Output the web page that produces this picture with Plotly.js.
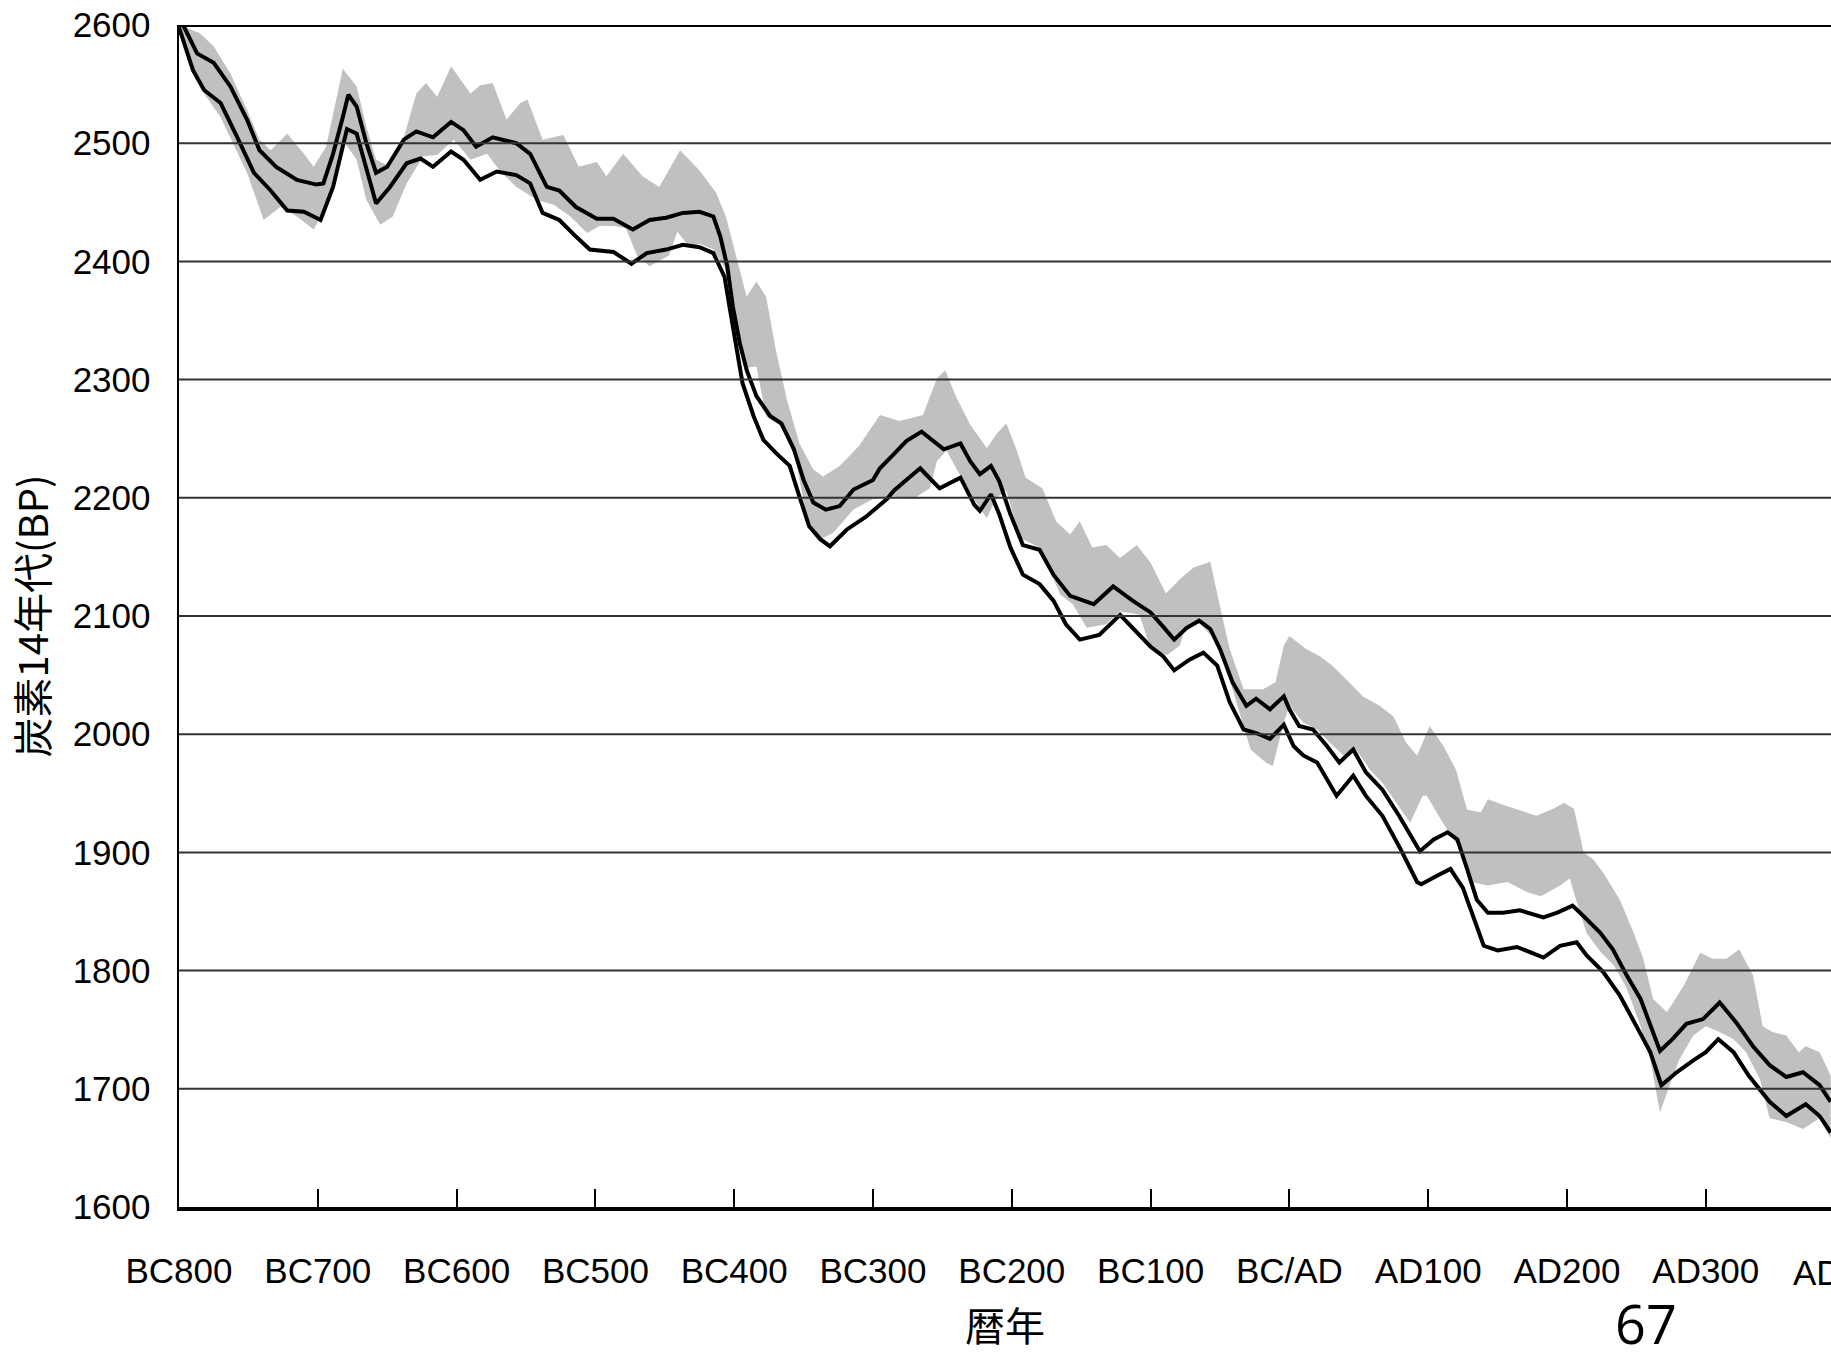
<!DOCTYPE html>
<html>
<head>
<meta charset="utf-8">
<script src="https://cdn.plot.ly/plotly-3.0.1.min.js"></script>
<style>
  html, body { margin: 0; padding: 0; background: #fff; overflow: hidden; }
  #chart { width: 1831px; height: 1353px; }
</style>
</head>
<body>
<div id="chart"></div>
<script>
// ---- Data (calendar year: BC negative, AD positive; value: 14C age BP) ----
const upperX = [-800,-797,-787,-775,-763,-751,-742,-730,-715,-701,-696,-689,-682,-678,-672,-665,-658,-650,-638,-629,-617,-604,-595,-586,-574,-557,-547,-535,-526,-514,-499,-487,-473,-461,-449,-437,-425,-415,-410,-405,-401,-396,-391,-384,-374,-366,-357,-350,-343,-334,-324,-314,-300,-295,-285,-276,-265,-257,-249,-237,-230,-223,-215,-209,-201,-192,-180,-170,-158,-141,-127,-113,-100,-91,-83,-74,-65,-57,-50,-41,-31,-24,-14,-4,0,7,17,27,36,46,55,67,79,94,104,114,121,128,135,143,154,166,183,193,204,212,224,233,243,253,260,267,276,286,298,310,322,334,346,358,370,382,390];
const upperY = [2600,2600,2576,2568,2548,2520,2494,2480,2469,2465,2466,2491,2522,2541,2531,2500,2475,2480,2503,2510,2505,2518,2511,2497,2505,2500,2491,2463,2460,2446,2436,2436,2427,2435,2437,2441,2442,2438,2421,2396,2362,2331,2308,2286,2269,2263,2241,2215,2196,2190,2193,2207,2215,2225,2237,2248,2256,2248,2241,2246,2231,2220,2227,2214,2186,2160,2156,2135,2117,2110,2125,2113,2103,2091,2080,2090,2096,2089,2072,2044,2024,2030,2021,2032,2021,2007,2004,1990,1976,1987,1968,1953,1931,1901,1911,1917,1911,1886,1860,1849,1849,1851,1845,1849,1855,1846,1832,1818,1796,1776,1753,1732,1742,1755,1759,1773,1756,1736,1720,1710,1714,1703,1689];

const lowerX = [-800,-790,-782,-770,-758,-746,-734,-722,-710,-698,-689,-679,-672,-665,-658,-648,-636,-626,-617,-604,-595,-583,-571,-557,-547,-538,-526,-514,-504,-487,-474,-463,-449,-437,-425,-415,-407,-403,-398,-394,-386,-379,-370,-360,-353,-346,-338,-331,-319,-305,-290,-285,-276,-266,-257,-252,-237,-227,-223,-215,-209,-201,-192,-180,-170,-161,-151,-137,-122,-108,-100,-91,-83,-72,-62,-52,-43,-33,-24,-14,-4,3,10,20,27,34,46,55,67,80,92,95,106,116,125,133,140,150,164,183,195,207,214,226,238,250,260,268,279,291,300,309,320,331,346,358,372,382,390];
const lowerY = [2598,2562,2545,2534,2505,2475,2460,2443,2442,2435,2463,2512,2508,2477,2449,2463,2483,2487,2480,2493,2486,2469,2476,2473,2466,2441,2435,2421,2410,2408,2398,2407,2410,2414,2412,2407,2387,2359,2325,2297,2269,2249,2238,2227,2201,2176,2165,2159,2173,2184,2199,2206,2215,2225,2214,2208,2217,2194,2189,2203,2186,2158,2135,2127,2113,2093,2080,2084,2101,2084,2074,2066,2054,2063,2069,2058,2027,2004,2001,1996,2008,1990,1982,1976,1962,1948,1965,1948,1931,1903,1875,1873,1880,1886,1870,1844,1821,1817,1820,1811,1821,1824,1813,1799,1779,1753,1731,1703,1714,1724,1731,1742,1731,1711,1689,1677,1687,1677,1663];

const bandHiX = [-800,-785,-775,-763,-751,-742,-734,-722,-710,-703,-694,-686,-682,-672,-665,-658,-648,-638,-629,-622,-614,-604,-590,-583,-574,-564,-554,-549,-538,-523,-512,-499,-492,-480,-466,-454,-439,-425,-413,-406,-398,-391,-384,-377,-370,-362,-353,-343,-336,-324,-310,-295,-281,-264,-254,-248,-240,-230,-218,-211,-204,-197,-190,-178,-168,-158,-151,-142,-132,-122,-110,-100,-89,-79,-69,-57,-50,-43,-33,-19,-10,-4,0,12,22,31,43,53,65,75,84,92,101,111,120,128,138,143,157,171,178,190,198,205,212,219,226,238,248,255,262,272,284,296,305,315,324,334,341,348,358,367,372,382,390];
const bandHiY = [2600,2593,2582,2559,2528,2503,2494,2508,2491,2480,2497,2542,2563,2548,2514,2486,2480,2505,2542,2551,2539,2565,2542,2549,2551,2520,2534,2537,2503,2507,2480,2484,2472,2491,2472,2463,2494,2477,2458,2438,2401,2370,2383,2370,2325,2283,2246,2224,2218,2227,2244,2270,2265,2270,2301,2308,2285,2262,2242,2254,2263,2242,2217,2208,2180,2169,2180,2158,2160,2149,2160,2145,2119,2131,2141,2146,2108,2072,2038,2038,2044,2075,2083,2072,2066,2058,2044,2032,2024,2015,1993,1982,2007,1990,1970,1936,1934,1945,1939,1934,1931,1937,1942,1937,1900,1894,1883,1860,1832,1810,1776,1765,1787,1815,1810,1810,1818,1796,1753,1748,1745,1731,1736,1731,1711];

const bandLoX = [-800,-795,-782,-770,-751,-739,-727,-715,-703,-694,-686,-682,-672,-665,-655,-646,-636,-624,-614,-602,-590,-578,-569,-557,-542,-530,-518,-506,-497,-487,-478,-470,-461,-455,-447,-441,-432,-425,-415,-407,-398,-391,-384,-377,-367,-357,-348,-338,-329,-314,-300,-285,-271,-259,-254,-247,-235,-223,-218,-211,-204,-194,-180,-165,-156,-146,-132,-122,-108,-100,-88,-79,-76,-65,-52,-41,-28,-17,-12,-4,0,10,20,29,39,48,58,67,77,87,96,99,109,121,131,143,157,172,181,195,202,207,214,224,234,243,253,260,267,274,281,291,300,310,320,329,339,346,358,370,382,390];
const bandLoY = [2598,2576,2542,2522,2475,2435,2446,2438,2427,2446,2480,2503,2486,2452,2431,2438,2466,2489,2490,2503,2486,2491,2477,2463,2452,2448,2438,2424,2430,2430,2428,2405,2396,2400,2405,2425,2412,2415,2410,2395,2345,2310,2311,2269,2261,2241,2184,2165,2170,2190,2199,2201,2199,2208,2231,2240,2214,2191,2183,2200,2206,2166,2158,2118,2110,2090,2093,2104,2101,2072,2067,2075,2086,2094,2078,2038,1987,1976,1973,2010,2024,2010,2004,1993,1982,1987,1970,1959,1942,1925,1948,1948,1928,1906,1875,1872,1875,1866,1863,1872,1878,1858,1832,1816,1804,1785,1753,1725,1680,1703,1725,1745,1753,1748,1742,1731,1708,1675,1672,1666,1675,1658];

const xTickVals = [-800,-700,-600,-500,-400,-300,-200,-100,0,100,200,300];
const xTickText = ['BC800','BC700','BC600','BC500','BC400','BC300','BC200','BC100','BC/AD','AD100','AD200','AD300'];
const yTickVals = [1600,1700,1800,1900,2000,2100,2200,2300,2400,2500,2600];

// ---- Traces ----
const bandX = bandHiX.concat(bandLoX.slice().reverse());
const bandY = bandHiY.concat(bandLoY.slice().reverse());

const traces = [
  { x: bandX, y: bandY, type: 'scatter', mode: 'lines', fill: 'toself',
    fillcolor: '#c0c0c0', line: { width: 0, color: '#c0c0c0' }, hoverinfo: 'skip' },
  { x: upperX, y: upperY, type: 'scatter', mode: 'lines',
    line: { color: '#000', width: 4 } },
  { x: lowerX, y: lowerY, type: 'scatter', mode: 'lines',
    line: { color: '#000', width: 4 } }
];

// horizontal grid lines drawn above the band (as in the reference)
const shapes = yTickVals.filter(v => v > 1600).map(v => ({
  type: 'line', xref: 'paper', x0: 0, x1: 1, yref: 'y', y0: v, y1: v,
  layer: 'above',
  line: { color: v === 2600 ? '#000' : '#333', width: v === 2600 ? 4 : 2 }
}));

const tickFont = { family: '"Liberation Sans", Arial, sans-serif', size: 35, color: '#000' };
const cjkFont = { family: '"Noto Sans CJK JP", "Noto Sans", sans-serif', size: 40, color: '#000' };

const plotL = 179, plotR = 1831, W = 1831;
const layout = {
  width: W, height: 1353,
  margin: { l: plotL, r: W - plotR, t: 25, b: 146 },
  paper_bgcolor: '#fff', plot_bgcolor: '#fff',
  showlegend: false,
  xaxis: {
    range: [-800, 390.2],
    tickvals: xTickVals, ticktext: xTickText,
    tickfont: tickFont,
    ticks: 'inside', ticklen: 18, tickwidth: 2, tickcolor: '#000',
    ticklabelstandoff: 30,
    showline: true, linecolor: '#000', linewidth: 4,
    showgrid: false, zeroline: false,
    title: { text: '暦年', font: cjkFont, standoff: 32 }
  },
  yaxis: {
    range: [1600, 2600],
    tickvals: yTickVals,
    tickfont: tickFont,
    ticks: '', ticklabelstandoff: 19,
    showline: true, linecolor: '#000', linewidth: 2.5,
    showgrid: false, zeroline: false,
    title: { text: '炭素14年代(BP)', font: cjkFont, standoff: 12 }
  },
  shapes: shapes,
  annotations: [
    { text: 'AD400', xref: 'paper', x: (1846 - plotL) / (plotR - plotL), yref: 'paper', y: 0,
      yanchor: 'middle', xanchor: 'center', yshift: -65, showarrow: false, font: tickFont },
    { text: '67', xref: 'paper', x: (1646 - plotL) / (plotR - plotL), yref: 'paper', y: -(1323 - 1207) / 1182,
      yanchor: 'middle', xanchor: 'center', showarrow: false,
      font: { family: '"Open Sans", "Liberation Sans", sans-serif', size: 54, color: '#000' } }
  ]
};

Plotly.newPlot('chart', traces, layout, { displayModeBar: false, staticPlot: true });
</script>
</body>
</html>
